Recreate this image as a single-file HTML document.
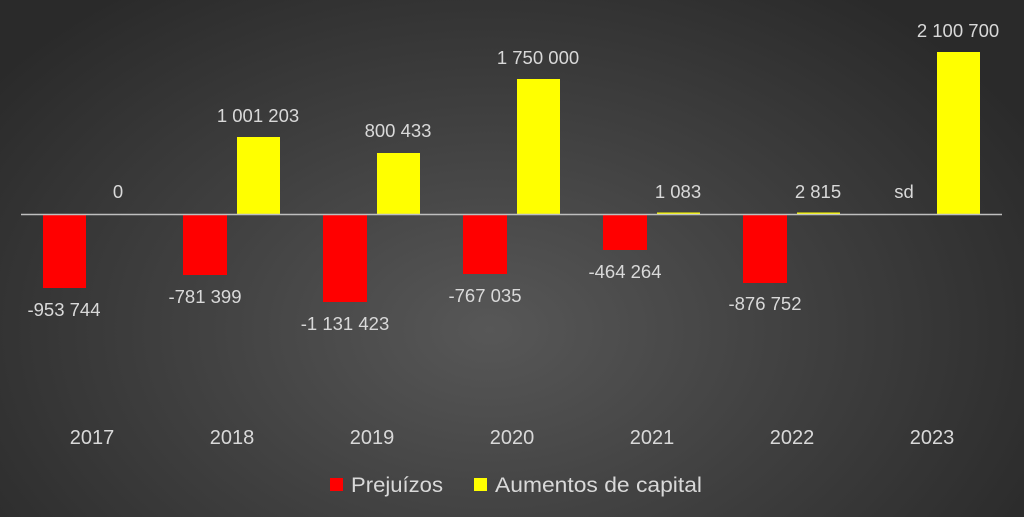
<!DOCTYPE html>
<html><head><meta charset="utf-8"><style>
html,body{margin:0;padding:0;width:1024px;height:517px;overflow:hidden;}
body{background:radial-gradient(ellipse 620px 420px at 490px 330px,#575757 0%,#404040 50%,#2a2a2a 100%);}
svg{display:block;}
text{font-family:"Liberation Sans",sans-serif;fill:#d9d9d9;}
</style></head><body>
<svg width="1024" height="517" xmlns="http://www.w3.org/2000/svg">
<g fill="#ff0000">
<rect x="43" y="215" width="43" height="73"/>
<rect x="183" y="215" width="44" height="60"/>
<rect x="323" y="215" width="44" height="87"/>
<rect x="463" y="215" width="44" height="59"/>
<rect x="603" y="215" width="44" height="35"/>
<rect x="743" y="215" width="44" height="68"/>
</g>
<g fill="#ffff00">
<rect x="237" y="137" width="43" height="77"/>
<rect x="377" y="153" width="43" height="61"/>
<rect x="517" y="79" width="43" height="135"/>
<rect x="657" y="212.5" width="43" height="1.5"/>
<rect x="797" y="212.5" width="43" height="1.5"/>
<rect x="937" y="52" width="43" height="162"/>
</g>
<line x1="21" y1="214.5" x2="1002" y2="214.5" stroke="#bfbfbf" stroke-width="1.5"/>
<g font-size="18.5" text-anchor="middle">
<text x="64" y="316">-953 744</text>
<text x="118" y="198">0</text>
<text x="205" y="303">-781 399</text>
<text x="258" y="122">1 001 203</text>
<text x="345" y="330">-1 131 423</text>
<text x="398" y="137">800 433</text>
<text x="485" y="302">-767 035</text>
<text x="538" y="64">1 750 000</text>
<text x="625" y="278">-464 264</text>
<text x="678" y="198">1 083</text>
<text x="765" y="310">-876 752</text>
<text x="818" y="198">2 815</text>
<text x="904" y="198">sd</text>
<text x="958" y="37">2 100 700</text>
</g>
<g font-size="20" text-anchor="middle">
<text x="92" y="444">2017</text>
<text x="232" y="444">2018</text>
<text x="372" y="444">2019</text>
<text x="512" y="444">2020</text>
<text x="652" y="444">2021</text>
<text x="792" y="444">2022</text>
<text x="932" y="444">2023</text>
</g>
<rect x="330" y="478" width="13" height="13" fill="#ff0000"/>
<text x="351" y="492" font-size="21" textLength="92" lengthAdjust="spacingAndGlyphs">Prejuízos</text>
<rect x="474" y="478" width="13" height="13" fill="#ffff00"/>
<text x="495" y="492" font-size="21" textLength="207" lengthAdjust="spacingAndGlyphs">Aumentos de capital</text>
</svg>
</body></html>
